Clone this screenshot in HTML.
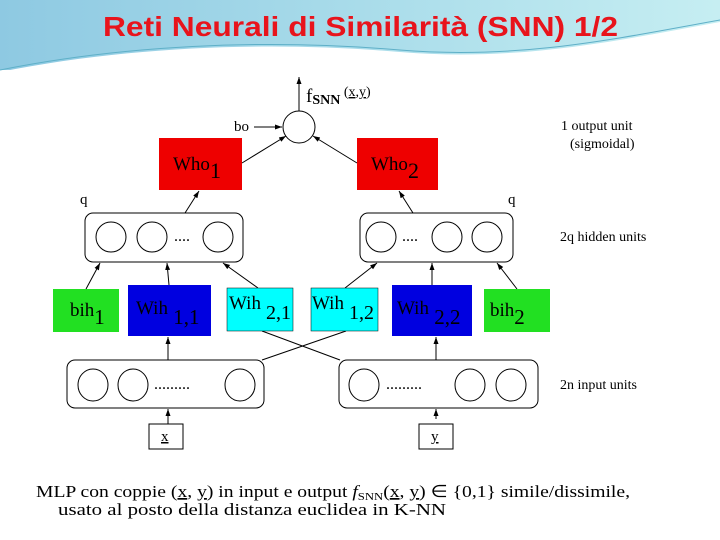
<!DOCTYPE html>
<html><head><meta charset="utf-8"><style>
html,body{margin:0;padding:0;background:#fff}
svg{display:block}
text{font-family:"Liberation Serif",serif;fill:#000}
</style></head><body>
<svg width="720" height="540" viewBox="0 0 720 540" xmlns="http://www.w3.org/2000/svg">
<defs>
<linearGradient id="bg" x1="0" y1="0" x2="1" y2="0">
<stop offset="0" stop-color="#8ec9e2"/><stop offset="0.5" stop-color="#a9dcea"/><stop offset="1" stop-color="#c6eef2"/>
</linearGradient>
<marker id="a" markerWidth="8" markerHeight="8" refX="7" refY="4" orient="auto" markerUnits="userSpaceOnUse"><path d="M0,1.5 L7,4 L0,6.5z" fill="#000"/></marker>
</defs>
<rect x="0" y="0" width="720" height="70" fill="url(#bg)"/>
<path d="M0,72 C120,48 260,40 400,52 C520,62 620,40 720,22 L720,80 L0,80z" fill="#fff"/>
<path d="M0,70 C120,46 260,38 400,50 C520,60 620,38 720,20" fill="none" stroke="#5fb0c8" stroke-width="1"/>
<text x="103" y="36" textLength="515" lengthAdjust="spacingAndGlyphs" style="font-family:'Liberation Sans',sans-serif;font-size:28px;font-weight:bold;fill:#e8141c">Reti Neurali di Similarità (SNN) 1/2</text>
<g stroke="#000" stroke-width="1" fill="none">
<line x1="299" y1="111" x2="299" y2="77" marker-end="url(#a)"/>
<circle cx="299" cy="127" r="16" fill="#fff"/>
<line x1="254" y1="127" x2="282" y2="127" marker-end="url(#a)"/>
<line x1="242" y1="163" x2="286" y2="136" marker-end="url(#a)"/>
<line x1="357" y1="163" x2="313" y2="136" marker-end="url(#a)"/>
<rect x="85" y="213" width="158" height="49" rx="8" fill="#fff"/>
<rect x="360" y="213" width="153" height="49" rx="8" fill="#fff"/>
<circle cx="111" cy="237" r="15"/><circle cx="152" cy="237" r="15"/><circle cx="218" cy="237" r="15"/>
<circle cx="381" cy="237" r="15"/><circle cx="447" cy="237" r="15"/><circle cx="487" cy="237" r="15"/>
<line x1="185" y1="213" x2="199" y2="191" marker-end="url(#a)"/>
<line x1="413" y1="213" x2="399" y2="191" marker-end="url(#a)"/>
<line x1="86" y1="289" x2="100" y2="263" marker-end="url(#a)"/>
<line x1="169" y1="285" x2="167" y2="263" marker-end="url(#a)"/>
<line x1="258" y1="288" x2="223" y2="263" marker-end="url(#a)"/>
<line x1="345" y1="288" x2="377" y2="263" marker-end="url(#a)"/>
<line x1="432" y1="285" x2="432" y2="263" marker-end="url(#a)"/>
<line x1="517" y1="289" x2="497" y2="263" marker-end="url(#a)"/>
<line x1="168" y1="360" x2="168" y2="337" marker-end="url(#a)"/>
<line x1="436" y1="360" x2="436" y2="337" marker-end="url(#a)"/>
<line x1="262" y1="331" x2="340" y2="360"/>
<line x1="346" y1="331" x2="262" y2="360"/>
<rect x="67" y="360" width="197" height="48" rx="8" fill="#fff"/>
<rect x="339" y="360" width="199" height="48" rx="8" fill="#fff"/>
<ellipse cx="93" cy="385" rx="15" ry="16"/><ellipse cx="133" cy="385" rx="15" ry="16"/><ellipse cx="240" cy="385" rx="15" ry="16"/>
<ellipse cx="364" cy="385" rx="15" ry="16"/><ellipse cx="470" cy="385" rx="15" ry="16"/><ellipse cx="511" cy="385" rx="15" ry="16"/>
<line x1="168" y1="424" x2="168" y2="409" marker-end="url(#a)"/>
<line x1="436" y1="419" x2="436" y2="409" marker-end="url(#a)"/>
<rect x="149" y="424" width="34" height="25" fill="#fff"/>
<rect x="419" y="424" width="34" height="25" fill="#fff"/>
</g>
<rect x="159" y="138" width="83" height="52" fill="#ee0000"/>
<rect x="357" y="138" width="81" height="52" fill="#ee0000"/>
<rect x="53" y="289" width="66" height="43" fill="#22e022"/>
<rect x="128" y="285" width="83" height="51" fill="#0000e0"/>
<rect x="227" y="288" width="66" height="43" fill="#00ffff" stroke="#000" stroke-width="0.5"/>
<rect x="311" y="288" width="67" height="43" fill="#00ffff" stroke="#000" stroke-width="0.5"/>
<rect x="392" y="285" width="80" height="51" fill="#0000e0"/>
<rect x="484" y="289" width="66" height="43" fill="#22e022"/>
<g font-size="19">
<text x="173" y="170">Who<tspan font-size="22" dy="8">1</tspan></text>
<text x="371" y="170">Who<tspan font-size="22" dy="8">2</tspan></text>
<text x="70" y="316">bih<tspan font-size="21" dy="8">1</tspan></text>
<text x="136" y="314">Wih<tspan font-size="21" dy="10"> 1,1</tspan></text>
<text x="229" y="309">Wih<tspan font-size="20" dy="10"> 2,1</tspan></text>
<text x="312" y="309">Wih<tspan font-size="20" dy="10"> 1,2</tspan></text>
<text x="397" y="314">Wih<tspan font-size="21" dy="10"> 2,2</tspan></text>
<text x="490" y="316">bih<tspan font-size="21" dy="8">2</tspan></text>
</g>
<g font-size="15">
<text x="306" y="102" font-size="19">f<tspan font-size="14" dy="2" font-weight="bold">SNN</tspan><tspan font-size="14" dy="-8"> (<tspan text-decoration="underline">x</tspan>,<tspan text-decoration="underline">y</tspan>)</tspan></text>
<text x="234" y="131">bo</text>
<text x="80" y="204">q</text>
<text x="508" y="204">q</text>
<text x="174" y="241" font-size="16">....</text>
<text x="402" y="241" font-size="16">....</text>
<text x="154" y="389" font-size="16">.........</text>
<text x="386" y="389" font-size="16">.........</text>
<text x="561" y="130" font-size="14">1 output unit</text>
<text x="570" y="148" font-size="14">(sigmoidal)</text>
<text x="560" y="241" font-size="14">2q hidden units</text>
<text x="560" y="389" font-size="14">2n input units</text>
<text x="161" y="441" text-decoration="underline">x</text>
<text x="431" y="441" text-decoration="underline">y</text>
</g>
<text x="36" y="497" font-size="17" textLength="594" lengthAdjust="spacingAndGlyphs">MLP con coppie (<tspan text-decoration="underline">x</tspan>, <tspan text-decoration="underline">y</tspan>) in input e output <tspan font-style="italic">f</tspan><tspan font-size="11" dy="3">SNN</tspan><tspan dy="-3">(<tspan text-decoration="underline">x</tspan>, <tspan text-decoration="underline">y</tspan>) ∈ {0,1} simile/dissimile,</tspan></text>
<text x="58" y="515" font-size="17" textLength="388" lengthAdjust="spacingAndGlyphs">usato al posto della distanza euclidea in K-NN</text>
</svg>
</body></html>
